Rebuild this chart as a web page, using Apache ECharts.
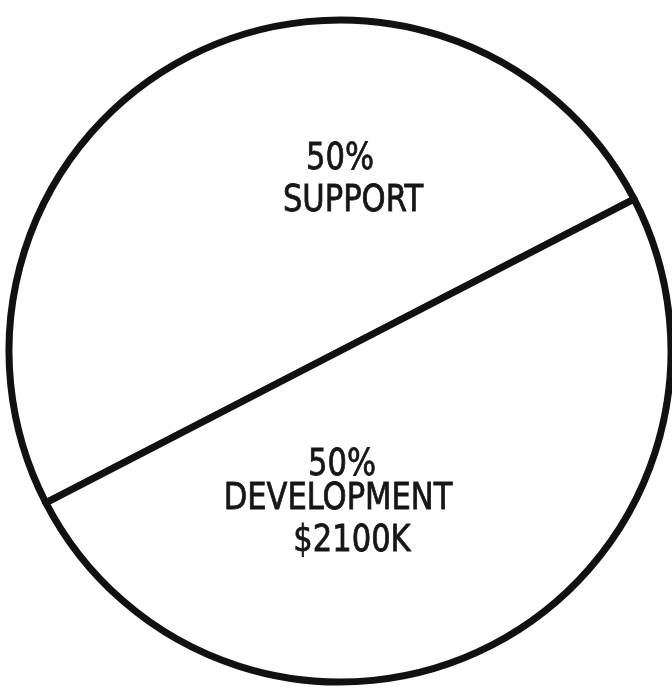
<!DOCTYPE html>
<html>
<head>
<meta charset="utf-8">
<script src="https://cdn.jsdelivr.net/npm/echarts@6/dist/echarts.min.js"></script>
<style>
  html, body { margin: 0; padding: 0; background: #fff; }
  #chart { width: 672px; height: 695px; }
</style>
</head>
<body>
<div id="chart"></div>
<script>
// Budget split, in $K
const categories = ['SUPPORT', 'DEVELOPMENT'];
const values = [2100, 2100];
const showAmount = [false, true];

// Caption line positions for each slice (page pixels): percent, name, amount
const captionLines = [
  [[340, 159], [353, 201]],
  [[342, 465], [338, 499], [352, 541]]
];

const total = values.reduce((a, b) => a + b, 0);

// Build the caption lines of each slice from its value
function captionText(i) {
  const lines = [Math.round(values[i] / total * 100) + '%', categories[i]];
  if (showAmount[i]) lines.push('$' + values[i] + 'K');
  return lines;
}

const captionFont = '34px "DejaVu Sans Condensed", "Liberation Sans Narrow", sans-serif';
const graphics = [];
categories.forEach((name, i) => {
  captionText(i).forEach((txt, j) => {
    const pos = captionLines[i][j];
    graphics.push({
      type: 'text',
      x: pos[0],
      y: pos[1],
      scaleY: 1.12,
      z: 100,
      silent: true,
      style: {
        text: txt,
        font: captionFont,
        fill: '#161616',
        stroke: '#161616',
        lineWidth: 0.7,
        align: 'center',
        verticalAlign: 'middle'
      }
    });
  });
});

const chart = echarts.init(document.getElementById('chart'), null, { renderer: 'canvas' });

chart.setOption({
  animation: false,
  backgroundColor: '#ffffff',
  series: [{
    type: 'pie',
    center: [340, 351],
    radius: [0, 331],
    startAngle: 27.3,
    clockwise: false,
    silent: true,
    itemStyle: {
      color: '#ffffff',
      borderColor: '#111111',
      borderWidth: 7
    },
    label: { show: false },
    labelLine: { show: false },
    data: categories.map((name, i) => ({ name: name, value: values[i] }))
  }],
  graphic: graphics
});
</script>
</body>
</html>
